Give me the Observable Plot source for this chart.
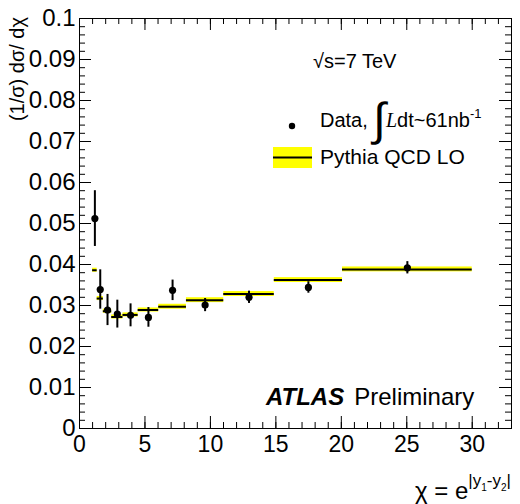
<!DOCTYPE html>
<html>
<head>
<meta charset="utf-8">
<script src="https://cdn.jsdelivr.net/npm/d3@7"></script>
<script src="https://cdn.jsdelivr.net/npm/@observablehq/plot@0.6"></script>
<style>
  html, body { margin: 0; padding: 0; background: #fff; }
  #chart { width: 520px; height: 504px; }
</style>
</head>
<body>
<div id="chart"></div>
<script>
// ---- data ----
const chiEdges = [1, 1.35, 1.82, 2.46, 3.32, 4.48, 6.05, 8.17, 11.02, 14.88, 20.09, 30];
const chiCenter = [1.175, 1.585, 2.14, 2.89, 3.9, 5.265, 7.11, 9.595, 12.95, 17.485, 25.045];
const dataVal = [0.0512, 0.0339, 0.0289, 0.0279, 0.0276, 0.0271, 0.0337, 0.0301, 0.0320, 0.0344, 0.0392];
const dataErr = [0.0068, 0.0048, 0.0038, 0.0034, 0.0028, 0.0024, 0.0025, 0.0016, 0.0015, 0.0014, 0.0015];
const theoryVal = [0.0386, 0.0317, 0.0286, 0.0272, 0.0277, 0.0289, 0.0297, 0.0313, 0.0328, 0.0362, 0.0388];
const theoryErr = [0.0005, 0.0005, 0.0005, 0.0005, 0.0005, 0.0005, 0.0006, 0.0006, 0.0006, 0.0006, 0.0006];

const xTickLabels = [0, 5, 10, 15, 20, 25, 30];
const xMinorTicks = d3.range(0, 34, 1);
const yTickLabels = [0, 0.01, 0.02, 0.03, 0.04, 0.05, 0.06, 0.07, 0.08, 0.09, 0.1];
const yMinorTicks = d3.range(0, 50).map(i => i * 0.002);

// ---- tables built from arrays ----
const points = chiCenter.map((x, i) => ({x, v: dataVal[i], e: dataErr[i]}));
const bins = theoryVal.map((v, i) => ({lo: chiEdges[i], hi: chiEdges[i + 1], v, e: theoryErr[i]}));

const W = 520, H = 504, mL = 79, mR = 9, mT = 18, mB = 76;
const pw = W - mL - mR, ph = H - mT - mB;
const FONT = "'Liberation Sans', Arial, Helvetica, sans-serif";

const chart = Plot.plot({
  width: W, height: H,
  marginLeft: mL, marginRight: mR, marginTop: mT, marginBottom: mB,
  style: {fontFamily: FONT, background: "#fff", color: "#000"},
  x: {domain: [0, 33]},
  y: {domain: [0, 0.1]},
  marks: [
    // theory band and central line
    Plot.rect(bins, {x1: "lo", x2: "hi", y1: d => d.v - d.e, y2: d => d.v + d.e, fill: "#ffff00"}),
    Plot.ruleY(bins, {x1: "lo", x2: "hi", y: "v", stroke: "#000", strokeWidth: 2}),
    // data with error bars
    Plot.ruleX(points, {x: "x", y1: d => d.v - d.e, y2: d => d.v + d.e, stroke: "#000", strokeWidth: 2}),
    Plot.dot(points, {x: "x", y: "v", r: 3.6, fill: "#000", stroke: "none"}),
    // inward ticks (ROOT style) bottom/top
    Plot.tickX(xMinorTicks, {x: d => d, insetTop: ph - 6, stroke: "#000"}),
    Plot.tickX(xMinorTicks, {x: d => d, insetBottom: ph - 6, stroke: "#000"}),
    Plot.tickX(xTickLabels, {x: d => d, insetTop: ph - 12, stroke: "#000"}),
    Plot.tickX(xTickLabels, {x: d => d, insetBottom: ph - 12, stroke: "#000"}),
    // left/right
    Plot.tickY(yMinorTicks, {y: d => d, insetRight: pw - 6, stroke: "#000"}),
    Plot.tickY(yMinorTicks, {y: d => d, insetLeft: pw - 6, stroke: "#000"}),
    Plot.tickY(yTickLabels, {y: d => d, insetRight: pw - 12, stroke: "#000"}),
    Plot.tickY(yTickLabels, {y: d => d, insetLeft: pw - 12, stroke: "#000"}),
    Plot.frame({stroke: "#000", strokeWidth: 1}),
    Plot.axisX({ticks: xTickLabels, tickSize: 0, tickPadding: 7, fontSize: 23, label: null, tickFormat: d => String(d)}),
    Plot.axisY({ticks: yTickLabels, tickSize: 0, tickPadding: 4, fontSize: 24, label: null, tickFormat: d => String(+d.toFixed(2))})
  ]
});

document.getElementById("chart").appendChild(chart);

// ---- annotations, legend and axis titles ----
const svg = d3.select(chart);
const g = svg.append("g").attr("font-family", FONT).attr("fill", "#000").attr("text-anchor", "start");

// y title
g.append("text")
  .attr("transform", "translate(24,17) rotate(-90)")
  .attr("text-anchor", "end")
  .attr("font-size", 20)
  .text("(1/σ) dσ/ dχ");

// x title
const xt = g.append("text").attr("x", 415).attr("y", 499).attr("font-size", 24);
xt.append("tspan").text("χ = e");
xt.append("tspan").attr("font-size", 17).attr("dy", -13).text("|y");
xt.append("tspan").attr("font-size", 10).attr("dy", 5).text("1");
xt.append("tspan").attr("font-size", 17).attr("dy", -5).text("-y");
xt.append("tspan").attr("font-size", 10).attr("dy", 5).text("2");
xt.append("tspan").attr("font-size", 17).attr("dy", -5).text("|");

// sqrt(s)
g.append("text").attr("x", 313).attr("y", 68).attr("font-size", 20).text("√s=7 TeV");

// Data legend entry
g.append("circle").attr("cx", 292).attr("cy", 126).attr("r", 3.2).attr("fill", "#000");
const dl = g.append("text").attr("x", 320).attr("y", 127).attr("font-size", 20);
dl.append("tspan").text("Data, ");
dl.append("tspan").attr("font-size", 46).attr("dy", 8).attr("font-family", "'DejaVu Sans', sans-serif").attr("font-weight", 200).text("∫");
dl.append("tspan").attr("dy", -8).attr("font-family", "'Liberation Serif', serif").attr("font-style", "italic").text("L");
dl.append("tspan").text("dt~61nb");
dl.append("tspan").attr("font-size", 13).attr("dy", -9).text("-1");

// Pythia legend entry
g.append("rect").attr("x", 273).attr("y", 147).attr("width", 39).attr("height", 21).attr("fill", "#ffff00");
g.append("line").attr("x1", 273).attr("x2", 312).attr("y1", 157.5).attr("y2", 157.5).attr("stroke", "#000").attr("stroke-width", 2);
g.append("text").attr("x", 320).attr("y", 164).attr("font-size", 21).text("Pythia QCD LO");

// ATLAS Preliminary
const at = g.append("text").attr("x", 266).attr("y", 405).attr("font-size", 24);
at.append("tspan").attr("font-weight", "bold").attr("font-style", "italic").text("ATLAS");
at.append("tspan").attr("dx", 10).text("Preliminary");
</script>
</body>
</html>
